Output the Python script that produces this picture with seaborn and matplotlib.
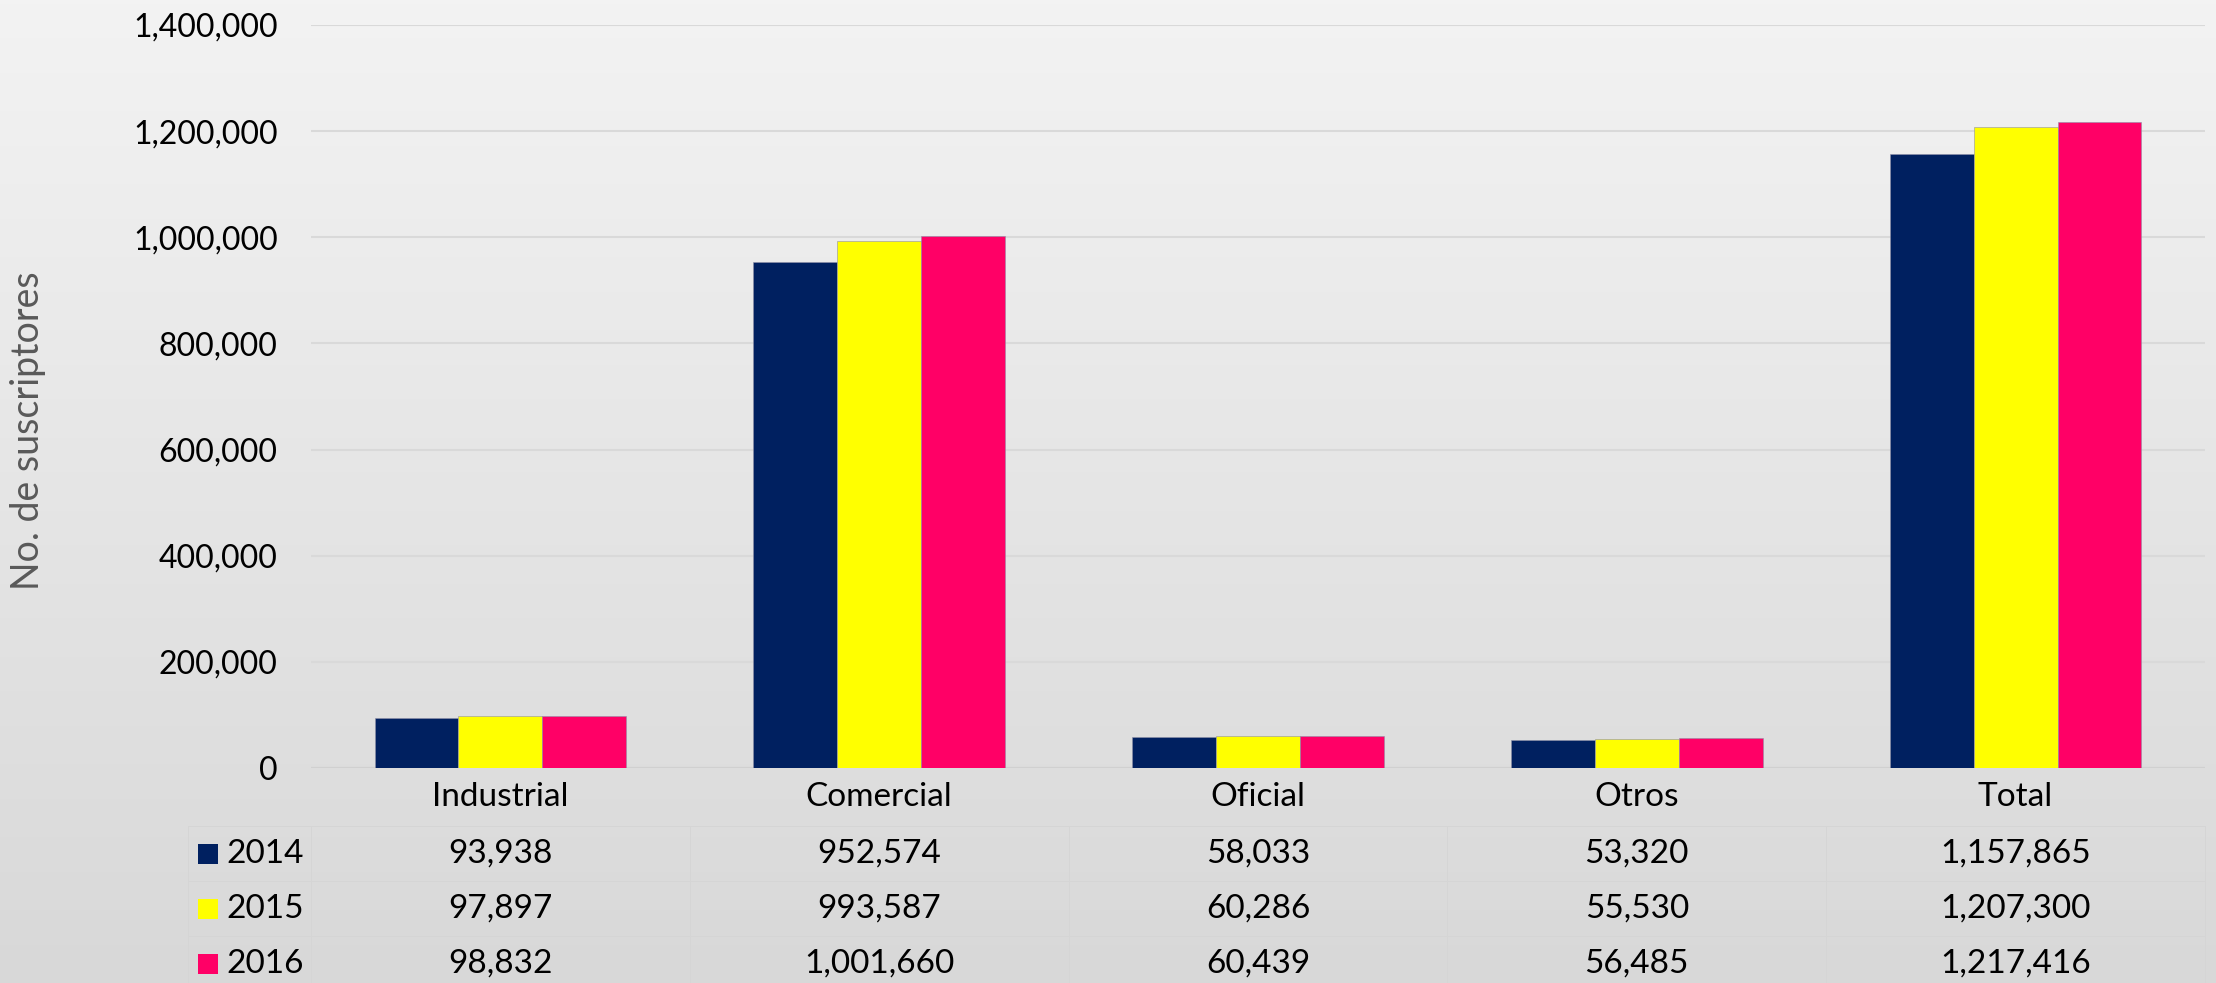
import numpy as np
import pandas as pd
import matplotlib
matplotlib.use("Agg")
import matplotlib.pyplot as plt
import matplotlib.transforms as mtransforms
from matplotlib.patches import Rectangle
from matplotlib.ticker import FuncFormatter, MultipleLocator
import seaborn as sns

categories = ["Industrial", "Comercial", "Oficial", "Otros", "Total"]
years = ["2014", "2015", "2016"]
v2014 = [93938, 952574, 58033, 53320, 1157865]
v2015 = [97897, 993587, 60286, 55530, 1207300]
v2016 = [98832, 1001660, 60439, 56485, 1217416]
colors = ["#002060", "#FFFF00", "#FF0066"]
ylabel = "No. de suscriptores"

series = {"2014": v2014, "2015": v2015, "2016": v2016}
df = pd.DataFrame([
    {"Categoria": c, "Año": y, "Valor": series[y][i]}
    for y in years for i, c in enumerate(categories)
])

sns.set_theme(style="white")
plt.rcParams["font.family"] = ["Lato", "DejaVu Sans"]

W, H = 2216, 983
fig = plt.figure(figsize=(W / 100, H / 100), dpi=100)

# background gradient
bg = fig.add_axes([0, 0, 1, 1], zorder=-10)
grad = np.linspace(0, 1, 256).reshape(-1, 1)
top = np.array([243, 243, 243]) / 255
bot = np.array([216, 216, 216]) / 255
img = top[None, None, :] * (1 - grad[:, :, None]) + bot[None, None, :] * grad[:, :, None]
bg.imshow(img, aspect="auto", extent=[0, 1, 0, 1])
bg.set_axis_off()

left, right = 311 / W, 2205 / W
top_y, bot_y = 25 / H, 768 / H
ax = fig.add_axes([left, 1 - bot_y, right - left, bot_y - top_y])
ax.set_facecolor("none")

sns.barplot(data=df, x="Categoria", y="Valor", hue="Año", palette=colors,
            saturation=1, width=0.664, ax=ax, legend=False,
            edgecolor="#9090a8", linewidth=0.4, zorder=3)

ax.set_xlim(-0.5, 4.5)
ax.set_ylim(0, 1400000)
ax.yaxis.set_major_locator(MultipleLocator(200000))
ax.yaxis.set_major_formatter(FuncFormatter(lambda v, p: f"{int(v):,}"))
ax.grid(axis="y", color="#d9d9d9", linewidth=1.5, zorder=0)
ax.grid(axis="x", visible=False)
for s in ax.spines.values():
    s.set_visible(False)
ax.axhline(0, color="#d0d0d0", linewidth=1.5, zorder=2)
ax.tick_params(axis="y", length=0, pad=24, labelsize=23, labelcolor="#000000")
ax.set_xticks([])
ax.set_xlabel("")
ax.set_ylabel("")
fig.text(28 / W, 1 - 431 / H, ylabel, rotation=90, ha="center", va="center",
         fontsize=27, color="#595959")

# data table
tr = mtransforms.blended_transform_factory(ax.transData, fig.transFigure)
def fy(py):
    return 1 - py / H

for i, c in enumerate(categories):
    ax.text(i, fy(797), c, transform=tr, ha="center", va="center", fontsize=24,
            color="#000000", clip_on=False)

row_y = [854, 909, 964]
for r, y in enumerate(years):
    vals = series[y]
    for i in range(len(categories)):
        ax.text(i, fy(row_y[r]), f"{vals[i]:,}", transform=tr, ha="center",
                va="center", fontsize=24, color="#000000", clip_on=False)
    fig.add_artist(Rectangle((198 / W, fy(row_y[r] + 10)), 20 / W, 20 / H,
                             transform=fig.transFigure, facecolor=colors[r],
                             edgecolor="none"))
    fig.text(226 / W, fy(row_y[r]), y, ha="left", va="center", fontsize=24,
             color="#000000")

# faint table borders
lc = "#d5d5d5"
for yb in [826, 881, 936]:
    fig.add_artist(plt.Line2D([188 / W, right], [fy(yb), fy(yb)],
                              transform=fig.transFigure, color=lc, linewidth=0.7))
for xb in [-0.5, 0.5, 1.5, 2.5, 3.5, 4.5]:
    ax.plot([xb, xb], [fy(826), fy(983)], transform=tr, color=lc, linewidth=0.7,
            clip_on=False)
fig.add_artist(plt.Line2D([188 / W, 188 / W], [fy(826), fy(983)],
                          transform=fig.transFigure, color=lc, linewidth=0.7))

fig.savefig("out.png", dpi=100)
